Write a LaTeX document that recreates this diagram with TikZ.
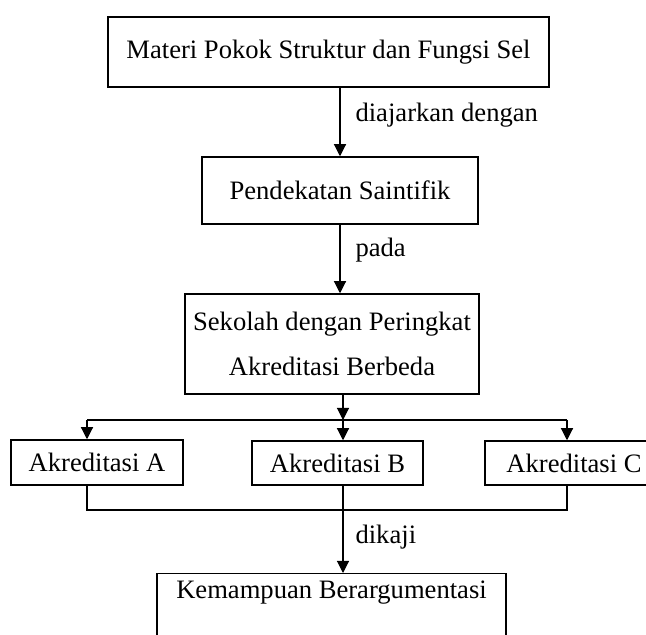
\documentclass[tikz,border=0pt]{standalone}
\usepackage{fontspec}
\setmainfont{Liberation Serif}
\usetikzlibrary{arrows.meta}

\begin{document}
\begin{tikzpicture}[x=1pt,y=1pt,
  box/.style={draw,line width=1.5pt,inner sep=0pt,font=\fontsize{26.6}{45}\selectfont},
  arw/.style={line width=1.1pt,-{Triangle[length=12pt,width=12pt]}},
  lnk/.style={line width=1.1pt},
  lbl/.style={inner sep=0pt,anchor=west,xshift=15pt,font=\fontsize{26.6}{32}\selectfont}]
\useasboundingbox (0,0) rectangle (646,635);
\node[box,minimum width=441pt,minimum height=70pt] (mat) at (328.5,583) {Materi Pokok Struktur dan Fungsi Sel};
\node[box,minimum width=276pt,minimum height=67pt] (pend) at (340,444.5) {Pendekatan Saintifik};
\node[box,minimum width=294pt,minimum height=100pt,align=center] (sek) at (332,291) {Sekolah dengan Peringkat\\Akreditasi Berbeda};
\node[box,minimum width=172pt,minimum height=45pt] (akA) at (97,172.5) {Akreditasi A};
\node[box,minimum width=171pt,minimum height=44pt] (akB) at (337.5,172) {Akreditasi B};
\node[box,minimum width=178pt,minimum height=44pt] (akC) at (574,172) {Akreditasi C};
\node[box,anchor=north,minimum width=349pt,text height=25pt,text depth=60pt] (kem) at (331.5,62) {Kemampuan Berargumentasi};
\coordinate (top) at (343,215);
\coordinate (aT) at (87,215);
\coordinate (cT) at (567,215);
\coordinate (bot) at (343,125);
\draw[arw] (mat.south -| pend.north) -- (pend.north) node[lbl,pos=0.4] {diajarkan dengan};
\draw[arw] (pend.south) -- (pend.south |- sek.north) node[lbl,pos=0.37] {pada};
\draw[arw] (sek.south -| top) -- (top);
\draw[lnk] (aT) -- (cT);
\draw[arw] (top) -- (top |- akB.north);
\draw[arw] (aT) -- (aT |- akA.north);
\draw[arw] (cT) -- (cT |- akC.north);
\draw[lnk] (aT |- akA.south) -- (aT |- bot) -- (cT |- bot) -- (cT |- akC.south);
\draw[arw] (akB.south -| bot) -- (bot |- kem.north) node[lbl,pos=0.59,xshift=-3pt] {dikaji};
\end{tikzpicture}
\end{document}
